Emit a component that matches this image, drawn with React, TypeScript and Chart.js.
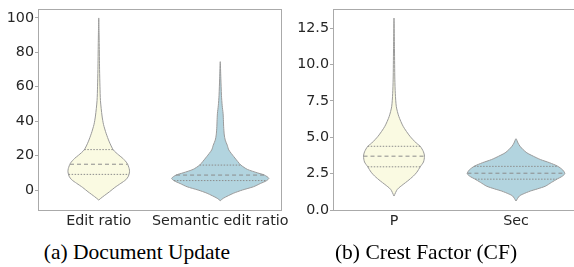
import React, { useEffect, useRef } from "react";
import { Chart, registerables } from "chart.js";
Chart.register(...registerables);

// ---------- Panel (a): Document Update ----------
const DOC_CATEGORIES = ["Edit ratio", "Semantic edit ratio"];
const DOC_TICKS = [0, 20, 40, 60, 80, 100];
const DOC_Y_MIN = -11.6;
const DOC_Y_MAX = 105.2;

// violin profiles: value levels (bottom -> top) and relative density (1 = widest)
const EDIT_LEVELS = [-5.8, -3.9, -1, 1.5, 3.9, 6, 8, 10.6, 12.5, 15.5, 18.4, 20.3, 23.3, 28, 33, 38, 43, 52, 60, 70, 85, 100];
const EDIT_DENSITY = [0, 0.083, 0.221, 0.331, 0.455, 0.558, 0.61, 0.634, 0.626, 0.585, 0.496, 0.413, 0.3, 0.217, 0.151, 0.099, 0.068, 0.035, 0.025, 0.017, 0.01, 0];
const EDIT_QUARTILES = [9.1, 15, 23.5];

const SEM_LEVELS = [-6.2, -4.8, -1.9, 0, 1.9, 3.8, 5.4, 6.8, 8.7, 10, 12, 14.5, 16.5, 19.4, 23.3, 26, 29, 32, 36.8, 40, 44.6, 49, 55, 65, 74.6];
const SEM_DENSITY = [0, 0.062, 0.269, 0.455, 0.682, 0.826, 0.95, 1.0, 0.909, 0.764, 0.558, 0.424, 0.362, 0.279, 0.176, 0.145, 0.103, 0.083, 0.07, 0.066, 0.058, 0.04, 0.025, 0.012, 0];
const SEM_QUARTILES = [5.5, 8.7, 14.5];

// ---------- Panel (b): Crest Factor (CF) ----------
const CF_CATEGORIES = ["P", "Sec"];
const CF_TICKS = [0, 2.5, 5, 7.5, 10, 12.5];
const CF_Y_MIN = 0;
const CF_Y_MAX = 13.82;

const P_LEVELS = [0.96, 1.42, 1.76, 2.0, 2.33, 2.6, 2.97, 3.3, 3.7, 4.0, 4.38, 4.6, 5.07, 5.75, 6.44, 7.1, 8, 9, 11, 13.2];
const P_DENSITY = [0, 0.069, 0.188, 0.281, 0.396, 0.469, 0.538, 0.604, 0.625, 0.604, 0.538, 0.458, 0.327, 0.188, 0.098, 0.048, 0.027, 0.017, 0.01, 0];
const P_QUARTILES = [2.97, 3.7, 4.38];

const SEC_LEVELS = [0.62, 0.96, 1.1, 1.3, 1.45, 1.64, 1.9, 2.15, 2.3, 2.5, 2.75, 3.01, 3.25, 3.47, 3.7, 3.93, 4.15, 4.38, 4.6, 4.9];
const SEC_DENSITY = [0, 0.069, 0.146, 0.292, 0.438, 0.604, 0.729, 0.854, 0.938, 1.0, 0.958, 0.854, 0.688, 0.5, 0.354, 0.223, 0.146, 0.083, 0.042, 0];
const SEC_QUARTILES = [2.12, 2.53, 3.0];

const CAPTIONS = ["(a) Document Update", "(b) Crest Factor (CF)"];

// ---------- styling ----------
const HALF_WIDTH = 0.4;
const YELLOW = "#fafae2";
const BLUE = "#b2d4df";
const EDGE = "#9a9a9a";
const QLINE = "#8c8c8c";
const FRAME = "#aaaaaa";
const TEXT = "#262626";
const TICK_FONT = { family: "DejaVu Sans", size: 14.3 };

function widthAt(levels: number[], dens: number[], v: number) {
  for (let i = 0; i < levels.length - 1; i++) {
    if (v >= levels[i] && v <= levels[i + 1]) {
      const t = (v - levels[i]) / (levels[i + 1] - levels[i]);
      return dens[i] + t * (dens[i + 1] - dens[i]);
    }
  }
  return 0;
}

function violin(center: number, levels: number[], dens: number[], quart: number[], color: string) {
  const right = levels.map((y, i) => ({ x: center + HALF_WIDTH * dens[i], y }));
  const left = levels.map((y, i) => ({ x: center - HALF_WIDTH * dens[i], y })).reverse();
  const outline = [...right, ...left.slice(1)];
  const sets: any[] = [
    {
      data: outline,
      borderColor: EDGE,
      borderWidth: 1,
      backgroundColor: color,
      fill: "shape",
      tension: 0.25,
      pointRadius: 0,
      order: 2,
    },
  ];
  quart.forEach((q, i) => {
    const w = HALF_WIDTH * widthAt(levels, dens, q);
    sets.push({
      data: [
        { x: center - w, y: q },
        { x: center + w, y: q },
      ],
      borderColor: QLINE,
      borderWidth: 1,
      borderDash: i === 1 ? [4, 3] : [1.5, 1.5],
      fill: false,
      pointRadius: 0,
      order: 1,
    });
  });
  return sets;
}

function makeOptions(cats: string[], ticks: number[], yMin: number, yMax: number, yAxisWidth: number, rightPad: number, fmt: (v: number) => string) {
  return {
    animation: false,
    responsive: false,
    maintainAspectRatio: false,
    layout: { padding: { top: 9, left: 0, right: rightPad, bottom: 0 } },
    plugins: { legend: { display: false }, tooltip: { enabled: false } },
    elements: { point: { radius: 0 } },
    scales: {
      x: {
        type: "linear",
        position: "bottom",
        min: -0.5,
        max: 1.5,
        afterBuildTicks: (s: any) => {
          s.ticks = cats.map((_, i) => ({ value: i }));
        },
        afterFit: (s: any) => {
          s.height = 22;
          s.paddingLeft = 0;
          s.paddingRight = 0;
        },
        ticks: {
          autoSkip: false,
          maxRotation: 0,
          padding: 3,
          color: TEXT,
          font: TICK_FONT,
          callback: (_v: any, i: number) => cats[i],
        },
        grid: { display: false, drawTicks: false },
        border: { display: true, color: FRAME, width: 1 },
      },
      y: {
        type: "linear",
        position: "left",
        min: yMin,
        max: yMax,
        afterBuildTicks: (s: any) => {
          s.ticks = ticks.map((v) => ({ value: v }));
        },
        afterFit: (s: any) => {
          s.width = yAxisWidth;
          s.paddingTop = 0;
          s.paddingBottom = 0;
        },
        ticks: {
          padding: 1,
          color: TEXT,
          font: TICK_FONT,
          callback: (v: any) => fmt(Number(v)),
        },
        grid: { display: true, drawOnChartArea: false, drawTicks: true, tickLength: 3, color: FRAME },
        border: { display: true, color: FRAME, width: 1 },
      },
      xTop: {
        type: "linear",
        position: "top",
        min: -0.5,
        max: 1.5,
        ticks: { display: false },
        grid: { display: false, drawTicks: false },
        border: { display: true, color: FRAME, width: 1 },
        afterFit: (s: any) => {
          s.height = 0;
        },
      },
      yRight: {
        type: "linear",
        position: "right",
        min: yMin,
        max: yMax,
        ticks: { display: false },
        grid: { display: false, drawTicks: false },
        border: { display: true, color: FRAME, width: 1 },
        afterFit: (s: any) => {
          s.width = 0;
        },
      },
    },
  };
}

function ViolinPanel(props: {
  left: number;
  width: number;
  rightPad: number;
  yAxisWidth: number;
  cats: string[];
  ticks: number[];
  yMin: number;
  yMax: number;
  fmt: (v: number) => string;
  violins: any[][];
}) {
  const ref = useRef<HTMLCanvasElement | null>(null);
  useEffect(() => {
    if (!ref.current) return;
    const chart = new Chart(ref.current, {
      type: "line",
      data: { datasets: props.violins.flat() },
      options: makeOptions(props.cats, props.ticks, props.yMin, props.yMax, props.yAxisWidth, props.rightPad, props.fmt) as any,
    });
    return () => chart.destroy();
  }, []);
  return (
    <canvas
      ref={ref}
      width={props.width}
      height={232}
      style={{ position: "absolute", left: props.left, top: 0, width: props.width, height: 232 }}
    />
  );
}

export default function App() {
  return (
    <div
      style={{
        position: "fixed",
        left: 0,
        top: 0,
        width: 574,
        height: 267,
        overflow: "hidden",
        background: "#ffffff",
      }}
    >
      <ViolinPanel
        left={0}
        width={292}
        rightPad={11}
        yAxisWidth={38}
        cats={DOC_CATEGORIES}
        ticks={DOC_TICKS}
        yMin={DOC_Y_MIN}
        yMax={DOC_Y_MAX}
        fmt={(v) => String(v)}
        violins={[
          violin(0, EDIT_LEVELS, EDIT_DENSITY, EDIT_QUARTILES, YELLOW),
          violin(1, SEM_LEVELS, SEM_DENSITY, SEM_QUARTILES, BLUE),
        ]}
      />
      <ViolinPanel
        left={290}
        width={287}
        rightPad={0}
        yAxisWidth={43}
        cats={CF_CATEGORIES}
        ticks={CF_TICKS}
        yMin={CF_Y_MIN}
        yMax={CF_Y_MAX}
        fmt={(v) => v.toFixed(1)}
        violins={[
          violin(0, P_LEVELS, P_DENSITY, P_QUARTILES, YELLOW),
          violin(1, SEC_LEVELS, SEC_DENSITY, SEC_QUARTILES, BLUE),
        ]}
      />
      {CAPTIONS.map((c, i) => (
        <div
          key={c}
          style={{
            position: "absolute",
            left: i === 0 ? 137 - 150 : 426 - 150,
            width: 300,
            top: 242,
            textAlign: "center",
            fontFamily: "'Liberation Serif', 'Times New Roman', serif",
            fontSize: 21.5,
            lineHeight: "21.5px",
            color: "#000",
            whiteSpace: "nowrap",
          }}
        >
          {c}
        </div>
      ))}
    </div>
  );
}
